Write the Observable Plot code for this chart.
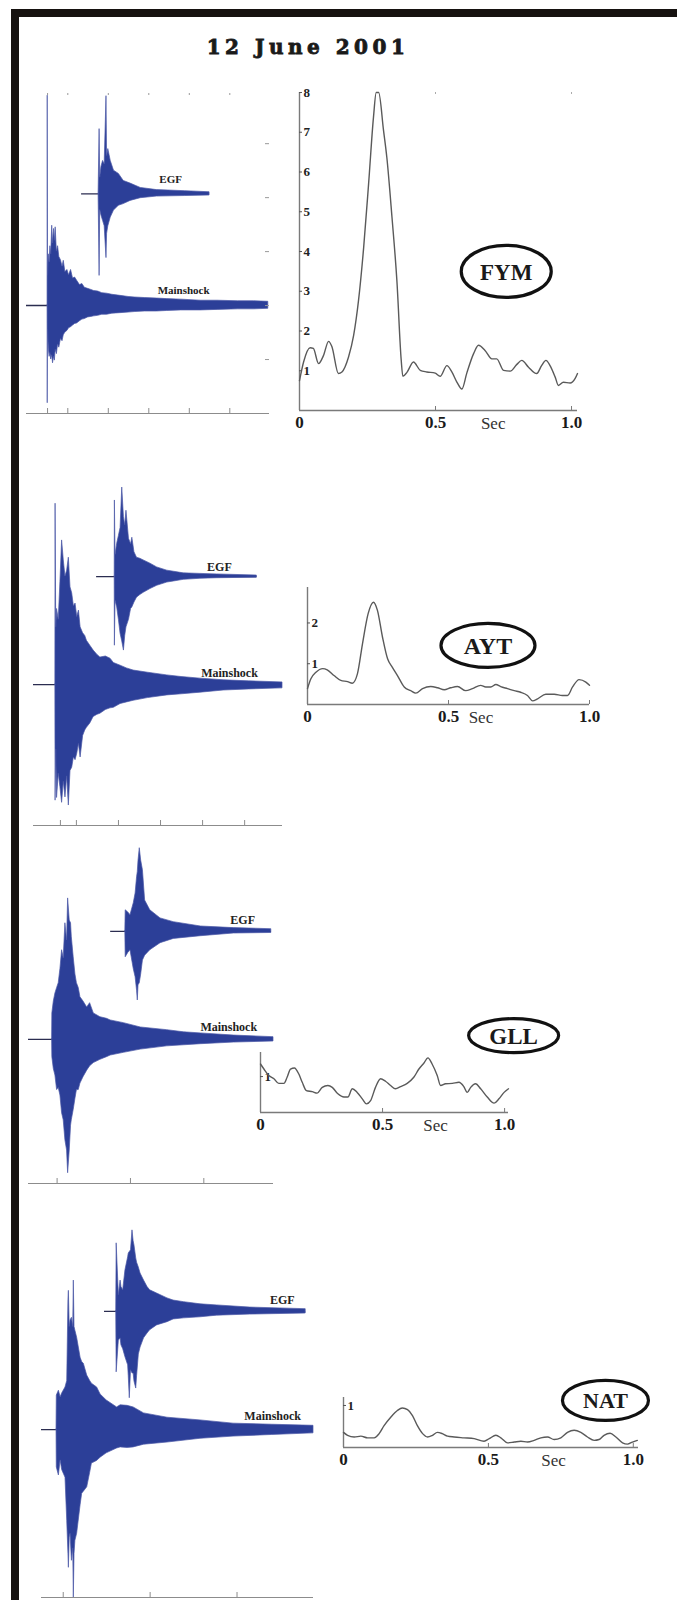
<!DOCTYPE html>
<html><head><meta charset="utf-8">
<script src="https://cdn.jsdelivr.net/npm/d3@7"></script>
<script src="https://cdn.jsdelivr.net/npm/@observablehq/plot@0.6"></script>
<style>
html,body{margin:0;padding:0;background:#fff;overflow:hidden;width:677px;height:1600px;}
#fig{position:relative;width:677px;height:1600px;overflow:hidden;background:#fff;}
.bar{position:absolute;background:#161210;}
#title{position:absolute;left:0;width:616px;top:35px;text-align:center;font-family:"DejaVu Serif",serif;font-weight:bold;font-size:20px;letter-spacing:4.5px;color:#1a1a1a;white-space:nowrap;-webkit-text-stroke:0.8px #1a1a1a;}
</style></head>
<body><div id="fig">
<div class="bar" style="left:11px;top:9px;width:666px;height:8px"></div>
<div class="bar" style="left:11px;top:9px;width:8px;height:1591px"></div>
<div id="title">12 June 2001</div>
</div>
<script>
// ---------------- data ----------------
const stations = ["FYM", "AYT", "GLL", "NAT"];
const traceNames = ["EGF", "Mainshock"];

// waveform envelopes: [time, upper amplitude, lower amplitude]
const fymMainshock = [[0,0,0],[0.004,3.89,-1.81],[0.012,0.55,-0.45],[0.03,0.95,-0.8],[0.05,0.8,-0.95],[0.07,1.1,-0.88],[0.09,0.95,-1.0],[0.115,1.48,-0.92],[0.135,1.15,-1.07],[0.16,1.42,-0.95],[0.18,1.2,-1.02],[0.2,1.45,-0.82],[0.23,1.0,-0.9],[0.26,1.1,-0.72],[0.29,0.9,-0.78],[0.33,0.84,-0.62],[0.37,0.72,-0.66],[0.4,0.83,-0.55],[0.44,0.62,-0.5],[0.49,0.66,-0.47],[0.53,0.56,-0.42],[0.58,0.66,-0.4],[0.63,0.5,-0.37],[0.68,0.52,-0.34],[0.73,0.46,-0.33],[0.8,0.38,-0.29],[0.86,0.4,-0.26],[0.92,0.33,-0.25],[1.0,0.31,-0.22],[1.08,0.29,-0.21],[1.15,0.27,-0.2],[1.25,0.26,-0.19],[1.35,0.23,-0.17],[1.47,0.22,-0.17],[1.6,0.2,-0.15],[1.8,0.18,-0.14],[2.0,0.16,-0.13],[2.15,0.15,-0.12],[2.4,0.14,-0.11],[2.7,0.13,-0.11],[2.95,0.12,-0.1],[3.3,0.11,-0.09],[3.78,0.09,-0.09],[4.2,0.09,-0.08],[4.7,0.08,-0.07],[5.1,0.08,-0.07],[5.45,0.07,-0.06]];
const fymEGF = [[1.26,0,0],[1.285,1.2,-1.52],[1.3,0.3,-0.3],[1.33,0.5,-0.4],[1.37,0.61,-0.5],[1.41,0.55,-0.6],[1.455,1.81,-1.19],[1.47,0.7,-0.74],[1.5,0.83,-0.6],[1.56,0.61,-0.44],[1.64,0.43,-0.31],[1.76,0.37,-0.22],[1.88,0.24,-0.19],[2.05,0.19,-0.13],[2.3,0.11,-0.08],[2.7,0.07,-0.05],[3.4,0.05,-0.04],[4.0,0.03,-0.03]];
const aytMainshock = [[0,0,0],[0.005,3.35,-2.15],[0.02,1.06,-1.2],[0.04,1.4,-2.1],[0.08,1.2,-1.65],[0.12,1.9,-1.9],[0.16,2.67,-2.19],[0.2,2.3,-1.8],[0.24,2.0,-2.09],[0.28,2.11,-1.7],[0.32,2.35,-2.24],[0.36,1.8,-1.6],[0.4,1.69,-1.54],[0.44,1.45,-1.35],[0.48,1.5,-1.4],[0.52,1.25,-1.28],[0.56,1.37,-1.1],[0.6,1.06,-1.35],[0.66,0.95,-0.95],[0.71,0.9,-0.85],[0.75,0.81,-0.8],[0.83,0.72,-0.72],[0.91,0.63,-0.6],[1.0,0.55,-0.56],[1.07,0.5,-0.54],[1.2,0.52,-0.47],[1.31,0.48,-0.44],[1.39,0.4,-0.43],[1.55,0.35,-0.36],[1.7,0.3,-0.33],[1.86,0.26,-0.3],[2.2,0.22,-0.25],[2.66,0.17,-0.2],[3.0,0.14,-0.18],[3.45,0.11,-0.15],[4.0,0.08,-0.11],[4.6,0.06,-0.09],[5.4,0.04,-0.07]];
const aytEGF = [[1.41,0,0],[1.415,1.41,-1.28],[1.43,0.4,-0.45],[1.47,0.61,-0.57],[1.51,0.75,-0.8],[1.55,0.9,-1.06],[1.59,1.65,-1.2],[1.63,1.1,-1.37],[1.66,0.95,-1.1],[1.69,1.22,-0.94],[1.75,0.7,-0.8],[1.8,0.6,-0.6],[1.83,0.72,-0.57],[1.88,0.45,-0.48],[1.94,0.35,-0.39],[2.02,0.33,-0.34],[2.1,0.3,-0.3],[2.26,0.24,-0.23],[2.42,0.17,-0.17],[2.66,0.11,-0.11],[2.82,0.09,-0.09],[3.05,0.06,-0.06],[3.45,0.05,-0.04],[3.85,0.04,-0.03],[4.79,0.02,-0.02]];
const gllMainshock = [[-0.068,0,0],[-0.065,0.48,-0.33],[-0.045,0.7,-0.55],[-0.023,0.85,-0.67],[0.0,0.95,-0.94],[0.022,1.04,-0.9],[0.045,1.3,-1.04],[0.068,1.65,-1.37],[0.09,1.5,-1.5],[0.113,2.15,-1.87],[0.136,1.83,-2.06],[0.15,2.61,-2.48],[0.172,2.2,-2.06],[0.19,2.15,-1.6],[0.2,1.9,-1.5],[0.226,1.52,-1.31],[0.25,1.2,-1.1],[0.27,1.04,-0.94],[0.295,0.95,-0.94],[0.318,0.78,-0.82],[0.36,0.7,-0.7],[0.41,0.59,-0.58],[0.45,0.67,-0.5],[0.5,0.48,-0.44],[0.59,0.41,-0.38],[0.68,0.38,-0.33],[0.73,0.35,-0.3],[0.91,0.3,-0.25],[1.14,0.22,-0.19],[1.5,0.17,-0.13],[1.73,0.13,-0.11],[1.96,0.11,-0.09],[2.41,0.07,-0.06],[2.95,0.04,-0.04]];
const gllEGF = [[0.93,0,0],[0.935,0.39,-0.48],[0.97,0.35,-0.4],[1.0,0.3,-0.35],[1.045,0.52,-0.7],[1.07,0.7,-0.85],[1.09,1.0,-1.1],[1.1,1.1,-1.28],[1.11,1.31,-1.0],[1.127,1.54,-0.96],[1.146,1.31,-0.8],[1.17,1.13,-0.54],[1.2,0.57,-0.45],[1.27,0.39,-0.35],[1.41,0.24,-0.22],[1.59,0.17,-0.14],[1.96,0.09,-0.09],[2.41,0.06,-0.04],[2.92,0.04,-0.03]];
const natMainshock = [[-0.077,0,0],[-0.074,0.63,-0.7],[-0.05,0.72,-0.85],[-0.03,0.6,-0.57],[-0.012,0.67,-0.75],[0.026,0.78,-0.89],[0.046,0.9,-1.69],[0.06,2.4,-2.3],[0.065,2.57,-2.56],[0.075,1.9,-2.0],[0.084,2.02,-1.93],[0.1,2.07,-2.43],[0.115,1.9,-2.2],[0.122,2.76,-3.11],[0.13,1.9,-2.3],[0.14,1.83,-2.06],[0.16,1.7,-1.93],[0.2,1.33,-1.4],[0.218,1.25,-1.19],[0.237,1.22,-1.15],[0.276,1.0,-1.07],[0.31,0.9,-0.8],[0.33,0.85,-0.63],[0.39,0.78,-0.58],[0.43,0.65,-0.52],[0.5,0.54,-0.44],[0.62,0.41,-0.35],[0.66,0.45,-0.33],[0.74,0.44,-0.34],[0.81,0.41,-0.33],[0.93,0.3,-0.28],[1.2,0.22,-0.24],[1.58,0.17,-0.17],[1.96,0.11,-0.13],[2.4,0.09,-0.1],[2.88,0.07,-0.07]];
const natEGF = [[0.61,0,0],[0.615,1.26,-1.13],[0.64,0.3,-0.54],[0.66,0.57,-0.5],[0.67,0.45,-0.63],[0.69,0.39,-0.7],[0.716,0.76,-0.85],[0.747,1.0,-1.0],[0.754,1.07,-1.2],[0.766,1.1,-1.61],[0.78,1.13,-1.09],[0.797,1.5,-1.15],[0.81,1.3,-1.15],[0.82,1.22,-1.3],[0.84,0.98,-1.43],[0.85,0.9,-1.2],[0.87,0.81,-0.8],[0.89,0.7,-0.67],[0.93,0.57,-0.5],[0.97,0.45,-0.41],[1.0,0.39,-0.35],[1.08,0.33,-0.26],[1.2,0.24,-0.2],[1.27,0.2,-0.15],[1.39,0.17,-0.13],[1.58,0.13,-0.11],[1.77,0.11,-0.08],[2.15,0.07,-0.06],[2.79,0.04,-0.04]];

// trace extents [start, end] and EGF offsets
const mainshockSpan = [[-0.52,5.45],[-0.52,5.4],[-0.39,2.95],[-0.25,2.88]];
const egfSpan = [[0.84,4.0],[0.98,4.79],[0.73,2.92],[0.475,2.79]];
const egfOffset = [2.07, 2.0, 2.0, 2.19];

// waveform time-axis ticks
const waveTicks = [[0,0.5,1.5,2.5,3.5,4.5],[0.12,0.5,1.5,2.5,3.5,4.5],[0,1,2],[0,1,2]];
const fymRightTicks = [-1,0,1,2,3];

// source time functions: [sec, amplitude]
const fymSTF = [[0,0.75],[0.015,1.22],[0.039,1.58],[0.051,1.56],[0.07,1.18],[0.088,1.38],[0.107,1.74],[0.119,1.61],[0.143,0.93],[0.156,0.97],[0.18,1.34],[0.199,1.89],[0.217,2.77],[0.236,4.11],[0.254,5.7],[0.272,7.38],[0.282,8.0],[0.291,8.0],[0.309,7.04],[0.321,6.37],[0.34,4.86],[0.358,3.27],[0.374,1.26],[0.38,0.86],[0.395,0.96],[0.419,1.22],[0.444,1.01],[0.468,0.97],[0.499,0.94],[0.517,0.86],[0.542,1.13],[0.56,0.97],[0.579,0.71],[0.597,0.54],[0.615,0.94],[0.64,1.43],[0.658,1.64],[0.682,1.51],[0.707,1.3],[0.725,1.3],[0.75,1.01],[0.775,0.99],[0.799,1.16],[0.817,1.26],[0.842,1.09],[0.872,0.93],[0.89,1.13],[0.906,1.26],[0.921,1.13],[0.94,0.84],[0.952,0.63],[0.97,0.71],[0.995,0.69],[1.013,0.8],[1.022,0.93]];
const aytSTF = [[0,0.39],[0.012,0.63],[0.03,0.79],[0.054,0.88],[0.07,0.85],[0.094,0.71],[0.118,0.59],[0.142,0.56],[0.159,0.52],[0.177,0.75],[0.195,1.49],[0.215,2.23],[0.234,2.51],[0.248,2.31],[0.266,1.65],[0.284,1.12],[0.301,0.91],[0.319,0.71],[0.343,0.43],[0.366,0.34],[0.384,0.28],[0.408,0.39],[0.437,0.44],[0.461,0.41],[0.485,0.36],[0.508,0.41],[0.532,0.44],[0.561,0.34],[0.585,0.39],[0.614,0.47],[0.632,0.43],[0.65,0.43],[0.668,0.49],[0.685,0.44],[0.709,0.39],[0.733,0.34],[0.756,0.3],[0.78,0.22],[0.798,0.09],[0.816,0.14],[0.845,0.25],[0.875,0.25],[0.904,0.22],[0.922,0.22],[0.94,0.43],[0.963,0.61],[0.987,0.55],[1.0,0.47]];
const gllSTF = [[0,1.35],[0.014,1.21],[0.034,1.03],[0.055,0.94],[0.075,0.81],[0.096,0.81],[0.109,0.98],[0.123,1.21],[0.139,1.24],[0.157,1.07],[0.171,0.84],[0.188,0.61],[0.212,0.58],[0.232,0.54],[0.253,0.7],[0.276,0.75],[0.294,0.7],[0.317,0.52],[0.342,0.43],[0.358,0.43],[0.376,0.66],[0.396,0.56],[0.417,0.38],[0.434,0.24],[0.451,0.33],[0.471,0.7],[0.492,0.94],[0.512,0.87],[0.533,0.75],[0.553,0.66],[0.574,0.72],[0.601,0.81],[0.628,0.98],[0.649,1.21],[0.669,1.37],[0.686,1.52],[0.703,1.35],[0.724,1.03],[0.738,0.75],[0.758,0.8],[0.786,0.81],[0.813,0.84],[0.833,0.72],[0.847,0.56],[0.861,0.7],[0.881,0.8],[0.902,0.66],[0.929,0.43],[0.957,0.26],[0.977,0.38],[0.998,0.56],[1.016,0.66]];
const natSTF = [[0,0.36],[0.014,0.29],[0.037,0.25],[0.06,0.27],[0.083,0.23],[0.106,0.23],[0.123,0.33],[0.14,0.52],[0.163,0.72],[0.186,0.88],[0.203,0.94],[0.221,0.9],[0.238,0.76],[0.255,0.52],[0.273,0.33],[0.29,0.25],[0.307,0.29],[0.324,0.36],[0.341,0.33],[0.359,0.27],[0.382,0.25],[0.416,0.23],[0.451,0.21],[0.485,0.15],[0.503,0.21],[0.526,0.29],[0.543,0.23],[0.566,0.11],[0.589,0.13],[0.612,0.15],[0.635,0.13],[0.658,0.17],[0.681,0.23],[0.704,0.25],[0.727,0.19],[0.75,0.23],[0.773,0.36],[0.796,0.41],[0.819,0.36],[0.842,0.25],[0.865,0.17],[0.882,0.19],[0.899,0.29],[0.92,0.34],[0.94,0.25],[0.963,0.11],[0.98,0.08],[0.997,0.13],[1.014,0.17]];

const stfYTicks = [[1,2,3,4,5,6,7,8],[1,2],[1],[1]];
const stfXTicks = [0, 0.5, 1.0];
const stfXTickLabels = ["0", "0.5", "1.0"];
const secLabel = "Sec";

// ---------------- layout (pixels & positions) ----------------
const waveLayout = [
  {frame:{x0:26,x1:269,y0:93,y1:413}, xd:[-0.52,5.48], yd:[-2,3.93], egfLab:[3.04,2.33], msLab:[3.36,0.28], fs:11},
  {frame:{x0:33,x1:282,y0:480,y1:825}, xd:[-0.52,5.40], yd:[-2.61,3.78], egfLab:[3.9,2.17], msLab:[4.14,0.22], fs:12},
  {frame:{x0:28,x1:273,y0:845,y1:1183}, xd:[-0.39,2.95], yd:[-2.67,3.59], egfLab:[2.53,2.2], msLab:[2.34,0.22], fs:12},
  {frame:{x0:41,x1:313,y0:1225,y1:1597}, xd:[-0.25,2.88], yd:[-3.11,3.78], egfLab:[2.52,2.39], msLab:[2.41,0.24], fs:12}
];
const stfLayout = [
  {frame:{x0:299,x1:577,y0:92,y1:410}, xd:[0,1.022], yd:[0,8], lab:[0.76,3.5], rx:45, ry:26, fs:23, sec:0.712, topTicks:true},
  {frame:{x0:307,x1:589,y0:587,y1:704}, xd:[0,1.0], yd:[0,2.87], lab:[0.64,1.45], rx:47, ry:22, fs:24, sec:0.615},
  {frame:{x0:260,x1:508,y0:1052,y1:1112}, xd:[0,1.016], yd:[0,1.67], lab:[1.037,2.14], rx:45, ry:17, fs:23, sec:0.717},
  {frame:{x0:343,x1:638,y0:1397,y1:1447}, xd:[0,1.018], yd:[0,1.19], lab:[0.904,1.12], rx:43, ry:20, fs:22, sec:0.725}
];

const mainshockData = [fymMainshock, aytMainshock, gllMainshock, natMainshock];
const egfData = [fymEGF, aytEGF, gllEGF, natEGF];
const stfData = [fymSTF, aytSTF, gllSTF, natSTF];

const BLUE = "#2c3f98";
const SERIF = "Liberation Serif, Times New Roman, serif";
const fig = document.getElementById("fig");

function place(svg, frame, m) {
  svg.style.position = "absolute";
  svg.style.left = (frame.x0 - m.left) + "px";
  svg.style.top = (frame.y0 - m.top) + "px";
  fig.appendChild(svg);
}

function ellipseSymbol(rx, ry) {
  const k = 0.5523;
  return {draw(ctx) {
    ctx.moveTo(rx, 0);
    ctx.bezierCurveTo(rx, ry*k, rx*k, ry, 0, ry);
    ctx.bezierCurveTo(-rx*k, ry, -rx, ry*k, -rx, 0);
    ctx.bezierCurveTo(-rx, -ry*k, -rx*k, -ry, 0, -ry);
    ctx.bezierCurveTo(rx*k, -ry, rx, -ry*k, rx, 0);
    ctx.closePath();
  }};
}

// ---------------- waveforms ----------------
waveLayout.forEach((L, i) => {
  const f = L.frame, m = {top: 12, right: 6, bottom: 6, left: 6};
  const pxY = (L.yd[1] - L.yd[0]) / (f.y1 - f.y0);
  const pxX = (L.xd[1] - L.xd[0]) / (f.x1 - f.x0);
  const off = egfOffset[i];
  const ms = mainshockData[i], egf = egfData[i];
  const marks = [
    Plot.ruleY([L.yd[0]], {stroke: "#8c8c8c", strokeWidth: 1}),
    Plot.ruleX(waveTicks[i], {x: d => d, y1: L.yd[0], y2: L.yd[0] + 5*pxY, stroke: "#8c8c8c", strokeWidth: 1}),
    Plot.ruleY([{y: 0, a: mainshockSpan[i][0], b: mainshockSpan[i][1]}], {y: "y", x1: "a", x2: "b", stroke: "#2b2d50", strokeWidth: 1.4}),
    Plot.ruleY([{y: off, a: egfSpan[i][0], b: egfSpan[i][1]}], {y: "y", x1: "a", x2: "b", stroke: "#2b2d50", strokeWidth: 1.4}),
    Plot.area(ms, {x1: d => d[0], y1: d => d[2], y2: d => d[1], fill: BLUE, stroke: "#4b58a6", strokeWidth: 0.7, curve: "linear"}),
    Plot.area(egf, {x1: d => d[0], y1: d => off + d[2], y2: d => off + d[1], fill: BLUE, stroke: "#4b58a6", strokeWidth: 0.7, curve: "linear"}),
    Plot.text([traceNames[0]], {x: L.egfLab[0], y: L.egfLab[1], text: d => d, fontFamily: SERIF, fontWeight: "bold", fontSize: L.fs, fill: "#222"}),
    Plot.text([traceNames[1]], {x: L.msLab[0], y: L.msLab[1], text: d => d, fontFamily: SERIF, fontWeight: "bold", fontSize: L.fs, fill: "#222"})
  ];
  if (i === 0) {
    marks.push(Plot.ruleX(waveTicks[i], {x: d => d, y1: L.yd[1], y2: L.yd[1] - 2*pxY, stroke: "#999", strokeWidth: 1}));
    marks.push(Plot.ruleY(fymRightTicks, {y: d => d, x1: L.xd[1] - 4*pxX, x2: L.xd[1], stroke: "#999", strokeWidth: 1}));
  }
  const svg = Plot.plot({
    width: f.x1 - f.x0 + m.left + m.right,
    height: f.y1 - f.y0 + m.top + m.bottom,
    marginTop: m.top, marginRight: m.right, marginBottom: m.bottom, marginLeft: m.left,
    x: {domain: L.xd, axis: null},
    y: {domain: L.yd, axis: null},
    style: {background: "transparent", overflow: "visible"},
    marks
  });
  place(svg, f, m);
});

// ---------------- source time functions ----------------
stfLayout.forEach((L, i) => {
  const f = L.frame, m = {top: 70, right: 29, bottom: 30, left: 10};
  const pxY = (L.yd[1] - L.yd[0]) / (f.y1 - f.y0);
  const pxX = (L.xd[1] - L.xd[0]) / (f.x1 - f.x0);
  const marks = [
    Plot.ruleY([L.yd[0]], {x1: 0, x2: L.xd[1], stroke: "#7a7a7a", strokeWidth: 1.4}),
    Plot.ruleX([0], {y1: L.yd[0], y2: L.yd[1], stroke: "#7a7a7a", strokeWidth: 1.4}),
    Plot.ruleX([0.5, 1.0], {x: d => d, y1: L.yd[0], y2: L.yd[0] + 4*pxY, stroke: "#7a7a7a", strokeWidth: 1}),
    Plot.ruleY(stfYTicks[i], {y: d => d, x1: 0, x2: 3*pxX, stroke: "#555", strokeWidth: 1}),
    Plot.text(stfYTicks[i], {x: 0, y: d => d, text: d => String(d), dx: 4, textAnchor: "start", fontFamily: SERIF, fontWeight: "bold", fontSize: 13, fill: "#222"}),
    Plot.text(stfXTicks, {x: d => d, y: L.yd[0], text: (d, j) => stfXTickLabels[j], dy: 12, fontFamily: SERIF, fontWeight: "bold", fontSize: 17, fill: "#1a1a1a"}),
    Plot.text([secLabel], {x: L.sec, y: L.yd[0], text: d => d, dy: 13, fontFamily: SERIF, fontSize: 17, fill: "#333"}),
    Plot.line(stfData[i], {x: d => d[0], y: d => d[1], stroke: "#5a5a5a", strokeWidth: 1.4, curve: "monotone-x"}),
    Plot.dot([stations[i]], {x: L.lab[0], y: L.lab[1], symbol: ellipseSymbol(L.rx, L.ry), fill: "none", stroke: "#111", strokeWidth: 3.2}),
    Plot.text([stations[i]], {x: L.lab[0], y: L.lab[1], text: d => d, dy: 1, fontFamily: SERIF, fontWeight: "bold", fontSize: L.fs, fill: "#1a1a1a"})
  ];
  if (L.topTicks) {
    marks.push(Plot.ruleX([0.5, 1.0], {x: d => d, y1: L.yd[1], y2: L.yd[1] - 2*pxY, stroke: "#aaa", strokeWidth: 1}));
  }
  const svg = Plot.plot({
    width: f.x1 - f.x0 + m.left + m.right,
    height: f.y1 - f.y0 + m.top + m.bottom,
    marginTop: m.top, marginRight: m.right, marginBottom: m.bottom, marginLeft: m.left,
    x: {domain: L.xd, axis: null},
    y: {domain: L.yd, axis: null},
    style: {background: "transparent", overflow: "visible"},
    marks
  });
  place(svg, f, m);
});
</script>
</body></html>
